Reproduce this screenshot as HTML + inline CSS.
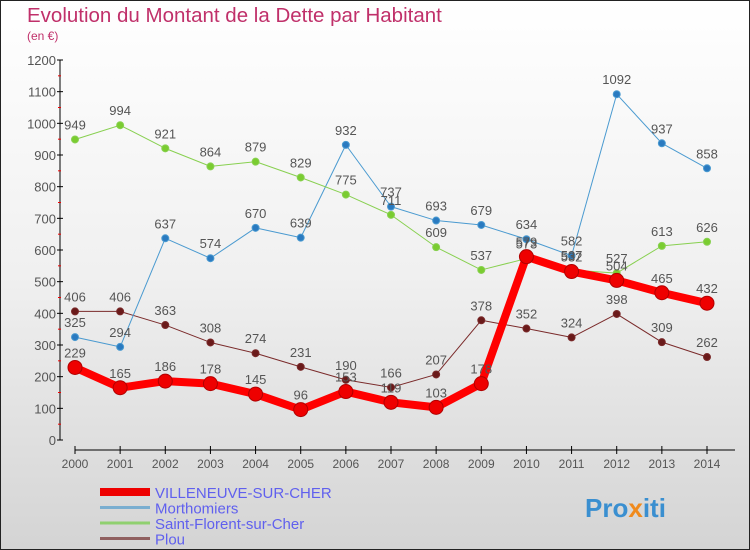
<!DOCTYPE html>
<html><head><meta charset="utf-8"><style>
body{margin:0;width:750px;height:550px;overflow:hidden;font-family:"Liberation Sans",sans-serif}
svg{display:block}
</style></head><body>
<svg id="c" width="750" height="550" xmlns="http://www.w3.org/2000/svg">
<defs><linearGradient id="bg" x1="0" y1="0" x2="0" y2="1"><stop offset="0" stop-color="#ffffff"/><stop offset="0.5" stop-color="#f0f0f0"/><stop offset="1" stop-color="#d4d4d4"/></linearGradient></defs>
<rect x="0.5" y="0.5" width="749" height="549" fill="url(#bg)" stroke="#222"/>
<text x="27" y="22" font-size="20.5" fill="#c0306a">Evolution du Montant de la Dette par Habitant</text>
<text x="27" y="40" font-size="12" fill="#c0306a">(en €)</text>
<g id="axes"></g><g id="series"></g><g id="legend"></g>
<text x="585" y="517" font-size="26" font-weight="bold" fill="#3a8fd0">Pro<tspan fill="#f08a1c">x</tspan>iti</text>
</svg>
<script>
const years=["2000","2001","2002","2003","2004","2005","2006","2007","2008","2009","2010","2011","2012","2013","2014"];
const yTicks=[0,100,200,300,400,500,600,700,800,900,1000,1100,1200];
const villeneuve=[229,165,186,178,145,96,153,119,103,178,579,532,504,465,432];
const morthomiers=[325,294,637,574,670,639,932,737,693,679,634,582,1092,937,858];
const saintFlorent=[949,994,921,864,879,829,775,711,609,537,573,537,527,613,626];
const plou=[406,406,363,308,274,231,190,166,207,378,352,324,398,309,262];
const seriesNames=["VILLENEUVE-SUR-CHER","Morthomiers","Saint-Florent-sur-Cher","Plou"];
const NS="http://www.w3.org/2000/svg";
const X=i=>75+i*(707-75)/(years.length-1);
const Y=v=>440-v*380/1200;
function mk(p,t,a){const e=document.createElementNS(NS,t);for(const k in a)e.setAttribute(k,a[k]);p.appendChild(e);return e;}
const ax=document.getElementById('axes');
let l=mk(ax,'line',{x1:60,y1:60,x2:60,y2:440,stroke:'#000'});


l=mk(ax,'line',{x1:75,y1:450,x2:735,y2:450,stroke:'#000'});


yTicks.forEach((v,i)=>{
  mk(ax,'line',{x1:57,y1:Y(v),x2:63,y2:Y(v),stroke:'#000'});
  if(i<yTicks.length-1)mk(ax,'line',{x1:58,y1:Y(v+50),x2:61,y2:Y(v+50),stroke:'#e00'});
  const t=mk(ax,'text',{x:56,y:Y(v)+5,'font-size':13,fill:'#555','text-anchor':'end'});t.textContent=v;
  
  
});
years.forEach((y,i)=>{
  mk(ax,'line',{x1:X(i),y1:446,x2:X(i),y2:454,stroke:'#000'});
  const t=mk(ax,'text',{x:X(i),y:468,'font-size':12,fill:'#555','text-anchor':'middle'});t.textContent=y;
  
  
});
const sg=document.getElementById('series');
function draw(data,color,w,r,dot,stroke,name){
  const g=mk(sg,'g',{});
  
  
  mk(g,'polyline',{points:data.map((v,i)=>X(i)+','+Y(v)).join(' '),fill:'none',stroke:color,'stroke-width':w,'stroke-linejoin':'round'});
  data.forEach((v,i)=>{
    const c=mk(g,'circle',{cx:X(i),cy:Y(v),r:r,fill:dot,stroke:stroke,'stroke-width':1});
    
    
    const t=mk(g,'text',{x:X(i),y:Y(v)-10,'font-size':13,fill:'#555','text-anchor':'middle'});t.textContent=v;
    
    
  });
}
draw(plou,'#7a2a2a',1,3.5,'#6a1a1a','#7a2a2a','series-plou');
draw(morthomiers,'#4a9ad0',1,3.5,'#2a7ac0','#4a9ad0','series-morthomiers');
draw(saintFlorent,'#88d050',1,3.5,'#7acc30','#88d050','series-saint-florent');
draw(villeneuve,'#ff0000',8,7,'#ee0000','#b00000','series-villeneuve');
const lg=document.getElementById('legend');
const cols=['#ee0000','#7aaed0','#90d070','#906060'];
const ws=[8,3,3,3];
seriesNames.forEach((n,i)=>{
  const y=492+i*15.5;
  const g=mk(lg,'g',{});
  
  
  mk(g,'line',{x1:100,y1:y,x2:150,y2:y,stroke:cols[i],'stroke-width':ws[i]});
  const t=mk(g,'text',{x:155,y:y+6,'font-size':15,fill:'#6060ee'});t.textContent=n;
});
</script>
</body></html>
